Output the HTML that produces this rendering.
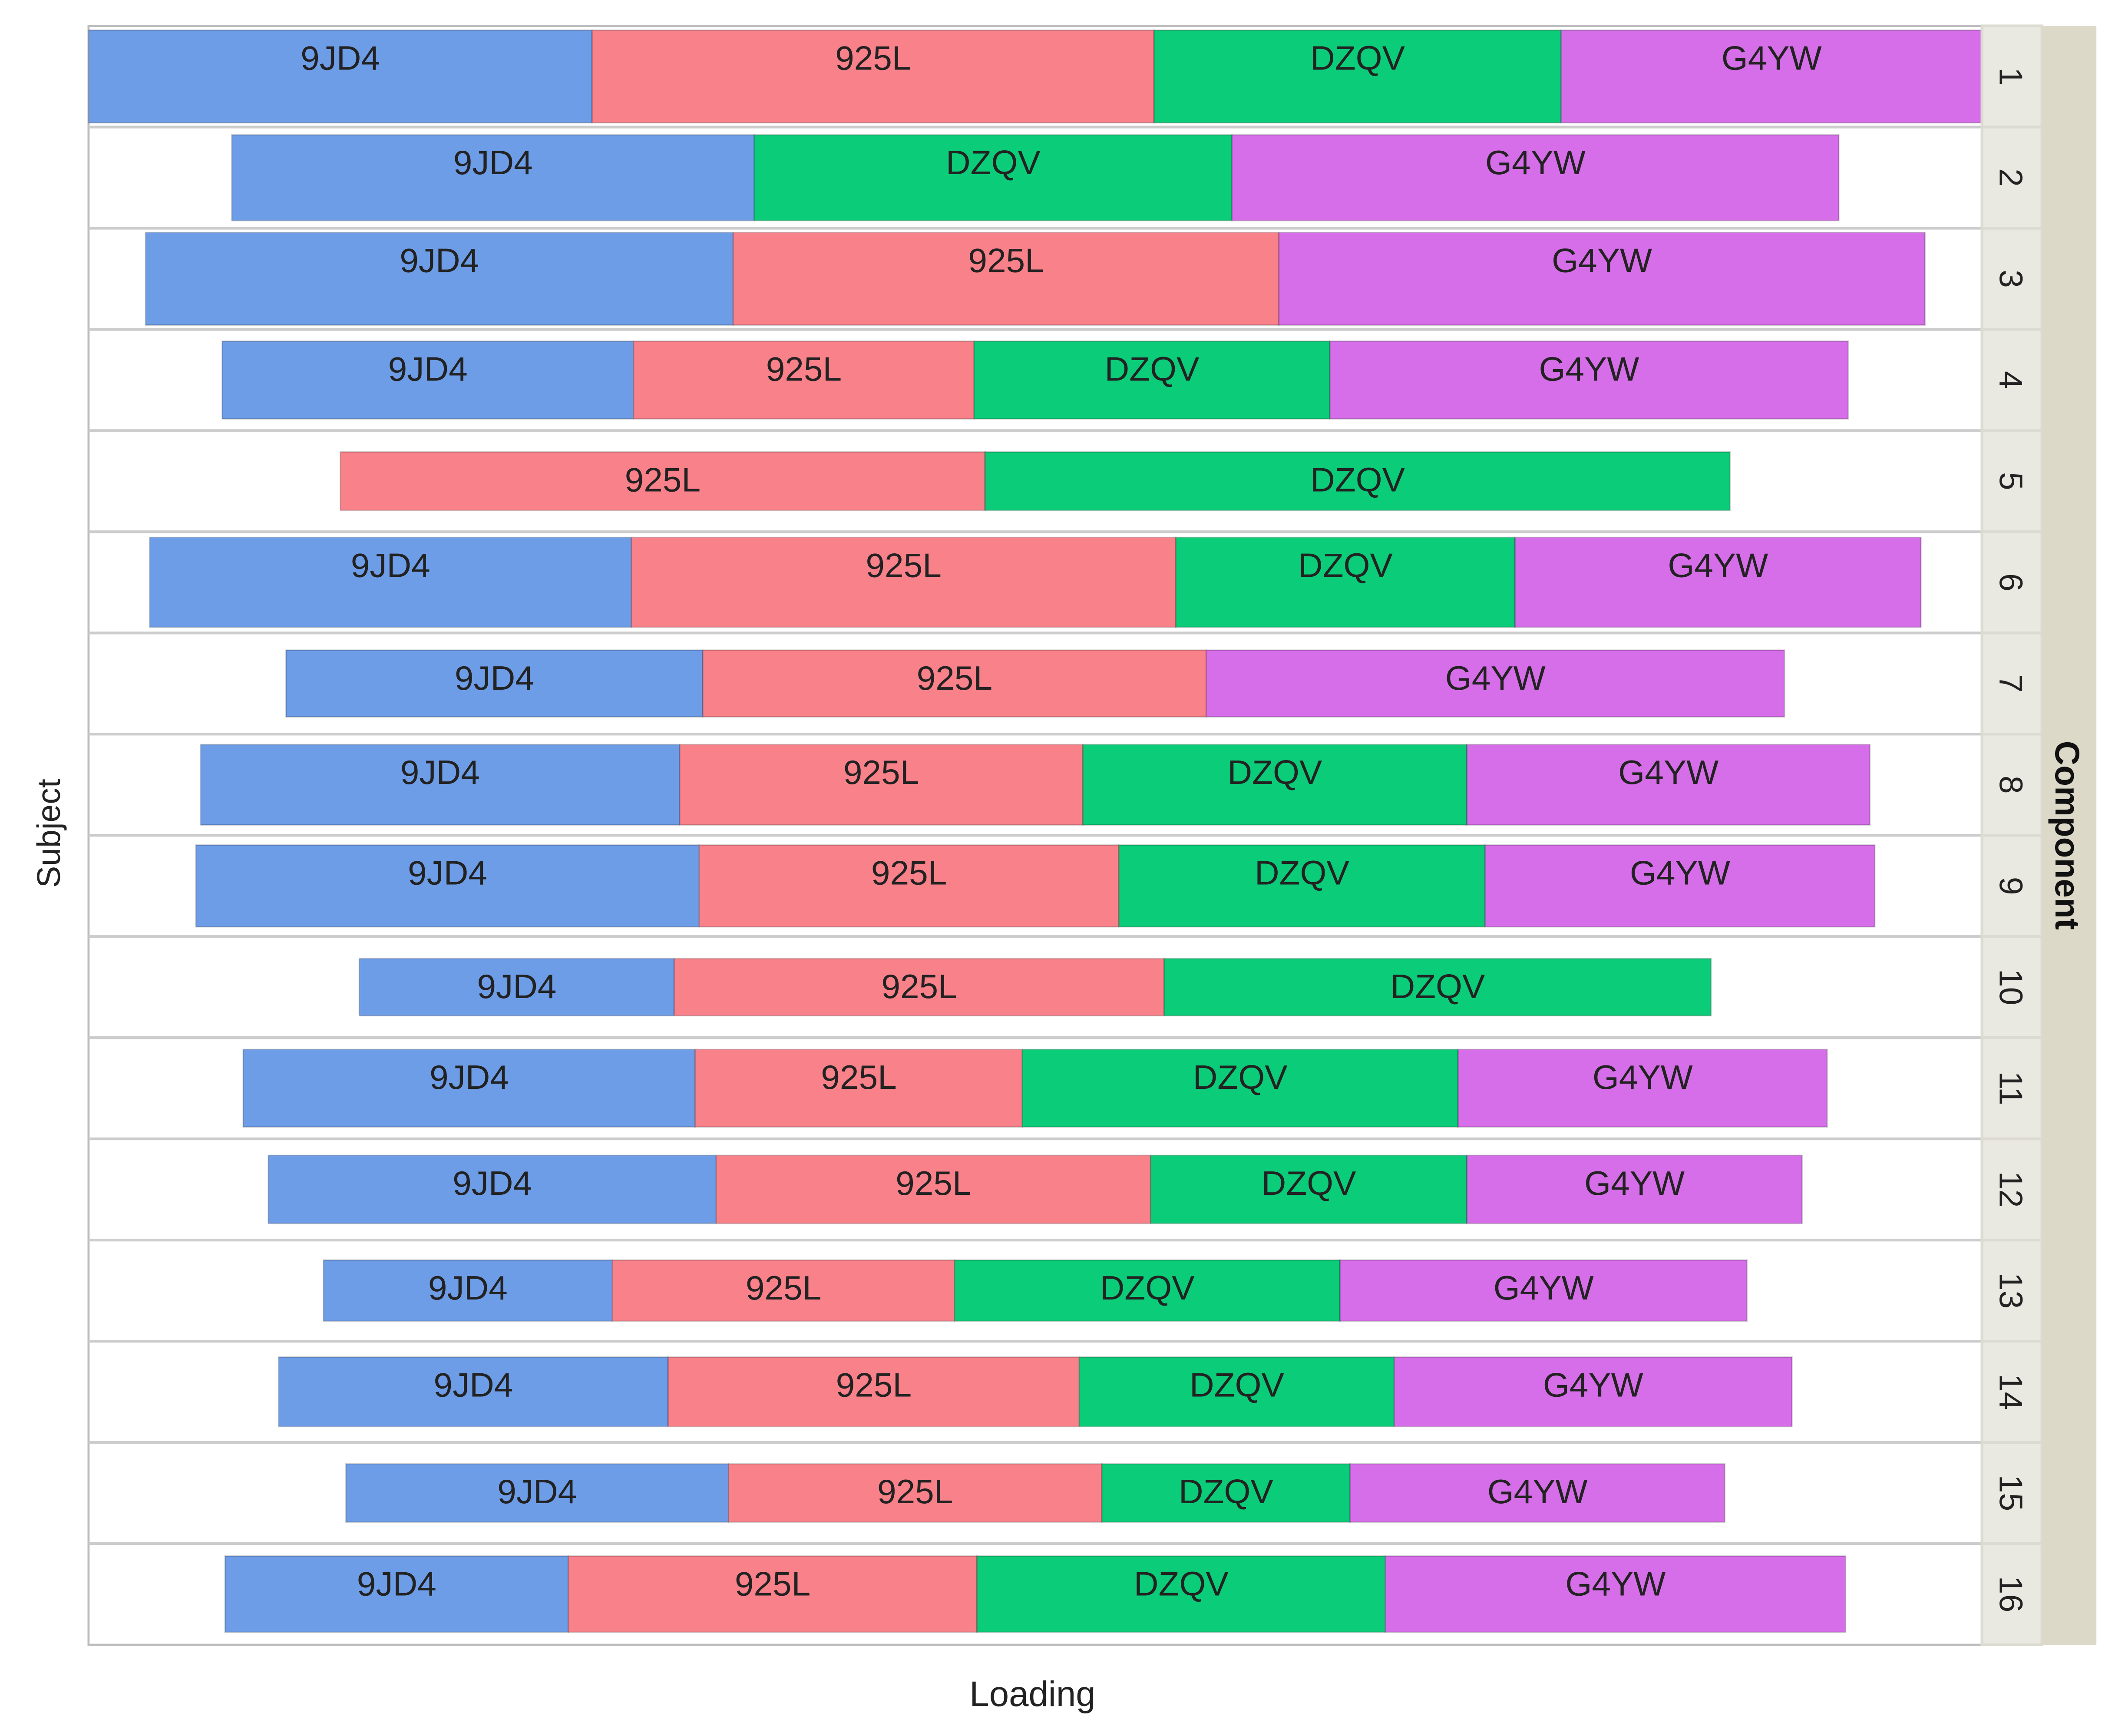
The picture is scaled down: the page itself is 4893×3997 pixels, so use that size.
<!DOCTYPE html>
<html><head><meta charset="utf-8"><style>
html,body{margin:0;padding:0;background:#fff;}
svg{display:block;}
text{font-family:"Liberation Sans","DejaVu Sans",sans-serif;}
</style></head><body>
<svg id="chart" xmlns="http://www.w3.org/2000/svg" width="4893" height="3997" viewBox="0 0 1560 1275" preserveAspectRatio="none">
<g id="frame"></g>
<g id="bars"></g>
<g id="strip"></g>
<text x="0" y="0" transform="translate(44,612) rotate(-90)" text-anchor="middle" font-size="24" fill="#222">Subject</text>
<text x="758" y="1253" text-anchor="middle" font-size="26" fill="#222">Loading</text>
</svg>
<script>
const components = ["9JD4","925L","DZQV","G4YW"];
const subjects = ["1","2","3","4","5","6","7","8","9","10","11","12","13","14","15","16"];
const load9JD4 = [371,385,433,303,0,355,307,353,371,232,333,330,213,287,282,253];
const load925L = [414,0,402,251,475,401,371,297,309,361,241,320,252,303,275,301];
const loadDZQV = [300,352,0,262,549,250,0,283,270,403,321,233,284,232,183,301];
const loadG4YW = [310,447,476,382,0,299,426,297,287,0,272,247,300,293,276,339];
const thickness = [68,63,68,57,43,66,49,59,60,42,57,50,45,51,43,56];
const series = [load9JD4, load925L, loadDZQV, loadG4YW];
const colors = ["#6e9de8","#f9818a","#0bcc78","#d76ee9"];

const NS = "http://www.w3.org/2000/svg";
const L = 65, R = 1455, T = 19, B = 1208;
const n = subjects.length;
const rowH = (B - T) / n;
const cx = (L + R) / 2;
const maxTotal = Math.max(...subjects.map((s,i)=>series.reduce((a,v)=>a+v[i],0)));
const xScale = v => v * (R - L) / maxTotal;
const yRow = i => T + i * rowH;
function el(tag, attrs, parent){const e=document.createElementNS(NS,tag);for(const k in attrs)e.setAttribute(k,attrs[k]);parent.appendChild(e);return e;}

const frame = document.getElementById('frame');
const bars = document.getElementById('bars');
const strip = document.getElementById('strip');

const bg = el('rect',{x:L,y:T,width:R-L,height:B-T,fill:'#fff',stroke:'#bbb','stroke-width':1.5},frame);



for(let i=0;i<n;i++){
  const y0 = yRow(i);
  if(i>0){
    const ln = el('line',{x1:L,x2:R,y1:y0,y2:y0,stroke:'#ccc','stroke-width':2},frame);
    
    
  }
  const total = series.reduce((a,v)=>a+v[i],0);
  const h = thickness[i];
  const yc = y0 + rowH/2;
  let x = cx - xScale(total)/2;
  series.forEach((arr,k)=>{
    const w = xScale(arr[i]);
    if(w<=0) return;
    const r = el('rect',{x:x,y:yc-h/2,width:w,height:h,fill:colors[k],stroke:'rgba(0,0,0,0.18)','stroke-width':1},bars);
    
    
    const t = el('text',{x:x+w/2,y:yc-h/2+29,'text-anchor':'middle','font-size':25,fill:'#222'},bars);
    t.textContent = components[k];
    
    
    x += w;
  });
  // strip cell
  const c = el('rect',{x:R,y:y0,width:44,height:rowH,fill:'#e9e8e1',stroke:'#dcdbd2','stroke-width':2},strip);
  
  
  const lt = el('text',{x:0,y:0,transform:`translate(${R+13},${yc}) rotate(90)`,'text-anchor':'middle','font-size':24,fill:'#222'},strip);
  lt.textContent = subjects[i];
  
  
}
const cs = el('rect',{x:R+44,y:T,width:40,height:B-T,fill:'#dcd9c9'},strip);


const ct = el('text',{x:0,y:0,transform:`translate(${R+54},${(T+B)/2}) rotate(90)`,'text-anchor':'middle','font-size':25,'font-weight':'bold',fill:'#111'},strip);
ct.textContent = 'Component';


</script>
</body></html>
